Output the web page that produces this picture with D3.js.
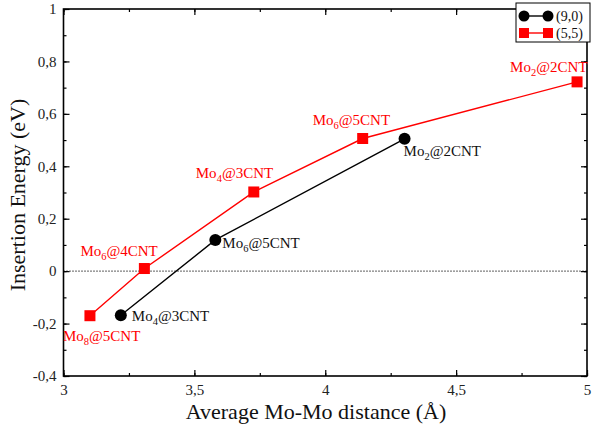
<!DOCTYPE html>
<html>
<head>
<meta charset="utf-8">
<script src="https://cdn.jsdelivr.net/npm/d3@7"></script>
<style>
  html, body { margin: 0; padding: 0; background: #fff; }
  svg { display: block; }
  svg text { font-family: "Liberation Serif", "Times New Roman", serif !important; }
</style>
</head>
<body>
<svg id="chart" width="593" height="432"></svg>
<script>
// Series: (9,0) and (5,5) nanotubes
const series90Names = ["(9,0)"];
const series90X = [3.219, 3.580, 4.303];
const series90Y = [-0.168, 0.119, 0.505];
const series90Labels = [["Mo", "4", "@3CNT"], ["Mo", "6", "@5CNT"], ["Mo", "2", "@2CNT"]];

const series55Names = ["(5,5)"];
const series55X = [3.101, 3.309, 3.727, 4.143, 4.962];
const series55Y = [-0.170, 0.010, 0.302, 0.506, 0.722];
const series55Labels = [["Mo", "8", "@5CNT"], ["Mo", "6", "@4CNT"], ["Mo", "4", "@3CNT"], ["Mo", "6", "@5CNT"], ["Mo", "2", "@2CNT"]];

const xTicks = [3, 3.5, 4, 4.5, 5];
const yTicks = [-0.4, -0.2, 0, 0.2, 0.4, 0.6, 0.8, 1];
const xTitle = "Average Mo-Mo distance (Å)";
const yTitle = "Insertion Energy (eV)";

// Label placement relative to each point (pixels)
const labelOffsets90 = [[11, 6], [7, 8], [-1, 17]];
const labelOffsets55 = [[-27, 25], [-64, -13], [-58, -14], [-50, -13], [-67, -10]];

const svg = d3.select("#chart");
const pLeft = 63.5, pRight = 587, pTop = 9, pBottom = 376;

const x = d3.scaleLinear().domain([3, 5]).range([pLeft, pRight]);
const y = d3.scaleLinear().domain([-0.4, 1]).range([pBottom, pTop]);

const fmt = v => (Number.isInteger(v) ? String(v) : String(+v.toFixed(1))).replace(".", ",");

// Minor + major inward ticks on all four sides
const g = svg.append("g");
function ticks(axisGen, transform, major, minor, labels) {
  const gm = g.append("g").attr("transform", transform)
    .call(axisGen.tickValues(minor).tickSize(-3).tickFormat(""));
  gm.select(".domain").remove();
  const gM = g.append("g").attr("transform", transform)
    .call(axisGen.tickValues(major).tickSize(-6).tickFormat(labels ? fmt : "").tickPadding(labels ? 10 : 0));
  gM.select(".domain").remove();
  return gM;
}
const xMinor = d3.range(3, 5.001, 0.25);
const yMinor = d3.range(-0.4, 1.001, 0.1).map(v => +v.toFixed(2));

const xb = ticks(d3.axisBottom(x), `translate(0,${pBottom})`, xTicks, xMinor, true);
ticks(d3.axisTop(x), `translate(0,${pTop})`, xTicks, xMinor, false);
const yl = ticks(d3.axisLeft(y), `translate(${pLeft},0)`, yTicks, yMinor, true);
ticks(d3.axisRight(y), `translate(${pRight},0)`, yTicks, yMinor, false);

g.selectAll(".tick line").attr("stroke", "#000").attr("stroke-width", 1.2);
xb.selectAll("text").attr("font-size", 15).attr("fill", "#222").attr("dy", "0.5em");
xb.selectAll(".tick text").attr("y", 11);
yl.selectAll("text").attr("font-size", 15).attr("fill", "#222").attr("x", -7);

// Frame
svg.append("rect")
  .attr("x", pLeft).attr("y", pTop)
  .attr("width", pRight - pLeft).attr("height", pBottom - pTop)
  .attr("fill", "none").attr("stroke", "#000").attr("stroke-width", 1.6);

// Zero reference line
svg.append("line")
  .attr("x1", pLeft).attr("x2", pRight)
  .attr("y1", y(0)).attr("y2", y(0))
  .attr("stroke", "#000").attr("stroke-width", 1.3)
  .attr("stroke-dasharray", "1,2");

const line = d3.line().x(d => x(d[0])).y(d => y(d[1]));
const pts90 = series90X.map((v, i) => [v, series90Y[i]]);
const pts55 = series55X.map((v, i) => [v, series55Y[i]]);

svg.append("path").datum(pts90).attr("d", line)
  .attr("fill", "none").attr("stroke", "#000").attr("stroke-width", 1.4);
svg.append("path").datum(pts55).attr("d", line)
  .attr("fill", "none").attr("stroke", "#ff0000").attr("stroke-width", 1.4);

const sq = 11;
svg.selectAll("circle.p90").data(pts90).enter().append("circle")
  .attr("cx", d => x(d[0])).attr("cy", d => y(d[1])).attr("r", 6).attr("fill", "#000");
svg.selectAll("rect.p55").data(pts55).enter().append("rect")
  .attr("x", d => x(d[0]) - sq / 2).attr("y", d => y(d[1]) - sq / 2)
  .attr("width", sq).attr("height", sq).attr("fill", "#ff0000");

// Point annotations with subscripts
function annotate(pts, labels, offsets, color) {
  pts.forEach((d, i) => {
    const t = svg.append("text")
      .attr("x", x(d[0]) + offsets[i][0]).attr("y", y(d[1]) + offsets[i][1])
      .attr("font-size", 15).attr("fill", color);
    t.append("tspan").text(labels[i][0]);
    t.append("tspan").attr("font-size", 10.5).attr("dy", 4).text(labels[i][1]);
    t.append("tspan").attr("dy", -4).text(labels[i][2]);
  });
}
annotate(pts90, series90Labels, labelOffsets90, "#111");
annotate(pts55, series55Labels, labelOffsets55, "#ff0000");

// Axis titles
svg.append("text")
  .attr("x", 316).attr("y", 419)
  .attr("text-anchor", "middle").attr("font-size", 22).attr("fill", "#111")
  .text(xTitle);
svg.append("text")
  .attr("transform", `translate(25,195) rotate(-90)`)
  .attr("text-anchor", "middle").attr("font-size", 22).attr("fill", "#111")
  .text(yTitle);

// Legend
const lg = svg.append("g");
lg.append("rect").attr("x", 516).attr("y", 3).attr("width", 74).attr("height", 39)
  .attr("fill", "#fff").attr("stroke", "#000").attr("stroke-width", 1);
const legendRows = [
  { name: series90Names[0], color: "#000", shape: "circle", yy: 16 },
  { name: series55Names[0], color: "#ff0000", shape: "square", yy: 33 }
];
legendRows.forEach(r => {
  lg.append("line").attr("x1", 524).attr("x2", 548).attr("y1", r.yy).attr("y2", r.yy)
    .attr("stroke", r.color).attr("stroke-width", 1.4);
  [524, 548].forEach(cx => {
    if (r.shape === "circle") {
      lg.append("circle").attr("cx", cx).attr("cy", r.yy).attr("r", 5.5).attr("fill", r.color);
    } else {
      lg.append("rect").attr("x", cx - 5).attr("y", r.yy - 5).attr("width", 10).attr("height", 10).attr("fill", r.color);
    }
  });
  lg.append("text").attr("x", 556).attr("y", r.yy + 5).attr("font-size", 14).attr("fill", "#111").text(r.name);
});
</script>
</body>
</html>
